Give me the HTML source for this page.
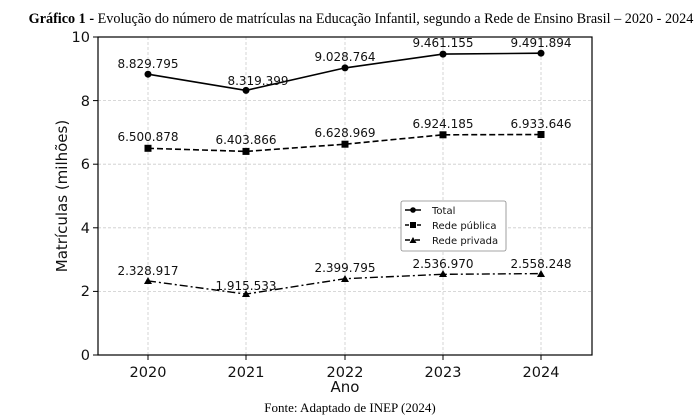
<!DOCTYPE html>
<html><head><meta charset="utf-8"><style>
html,body{margin:0;padding:0;background:#fff;width:700px;height:420px;overflow:hidden}
</style></head><body>
<svg width="700" height="420" viewBox="0 0 700 420" xmlns="http://www.w3.org/2000/svg">
<text x="361" y="23" text-anchor="middle" font-family="Liberation Serif, serif" font-size="14.2" fill="#000"><tspan font-weight="bold">Gráfico 1 -</tspan> Evolução do número de matrículas na Educação Infantil, segundo a Rede de Ensino Brasil – 2020 - 2024</text>
<g stroke="#ccc" stroke-width="0.8" stroke-dasharray="3,2">
<line x1="148" y1="37" x2="148" y2="355"/><line x1="246" y1="37" x2="246" y2="355"/><line x1="345" y1="37" x2="345" y2="355"/><line x1="443" y1="37" x2="443" y2="355"/><line x1="541" y1="37" x2="541" y2="355"/>
<line x1="98" y1="291.4" x2="592" y2="291.4"/><line x1="98" y1="227.8" x2="592" y2="227.8"/><line x1="98" y1="164.2" x2="592" y2="164.2"/><line x1="98" y1="100.6" x2="592" y2="100.6"/>
</g>
<rect x="98" y="37" width="494" height="318" fill="none" stroke="#000" stroke-width="1.2"/>
<g stroke="#000" stroke-width="1">
<line x1="93" y1="355" x2="98" y2="355"/><line x1="93" y1="291.4" x2="98" y2="291.4"/><line x1="93" y1="227.8" x2="98" y2="227.8"/><line x1="93" y1="164.2" x2="98" y2="164.2"/><line x1="93" y1="100.6" x2="98" y2="100.6"/><line x1="93" y1="37" x2="98" y2="37"/>
<line x1="148" y1="355" x2="148" y2="360"/><line x1="246" y1="355" x2="246" y2="360"/><line x1="345" y1="355" x2="345" y2="360"/><line x1="443" y1="355" x2="443" y2="360"/><line x1="541" y1="355" x2="541" y2="360"/>
</g>
<g font-family="DejaVu Sans, sans-serif" font-size="14.5" fill="#111" text-anchor="end">
<text x="90" y="360">0</text><text x="90" y="296">2</text><text x="90" y="233">4</text><text x="90" y="169">6</text><text x="90" y="106">8</text><text x="90" y="42">10</text>
</g>
<g font-family="DejaVu Sans, sans-serif" font-size="14.5" fill="#111" text-anchor="middle">
<text x="148" y="377">2020</text><text x="246" y="377">2021</text><text x="345" y="377">2022</text><text x="443" y="377">2023</text><text x="541" y="377">2024</text>
<text x="345" y="392" font-size="15">Ano</text>
<text transform="translate(67,196) rotate(-90)" font-size="15">Matrículas (milhões)</text>
</g>
<polyline fill="none" stroke="#000" stroke-width="1.6" points="148,74.2 246,90.4 345,67.9 443,54.1 541,53.2"/>
<polyline fill="none" stroke="#000" stroke-width="1.6" stroke-dasharray="6,3" points="148,148.3 246,151.4 345,144.2 443,134.8 541,134.5"/>
<polyline fill="none" stroke="#000" stroke-width="1.4" stroke-dasharray="8,3,2,3" points="148,280.9 246,294.1 345,278.7 443,274.3 541,273.6"/>
<g fill="#000">
<circle cx="148" cy="74.2" r="3.5"/><circle cx="246" cy="90.4" r="3.5"/><circle cx="345" cy="67.9" r="3.5"/><circle cx="443" cy="54.1" r="3.5"/><circle cx="541" cy="53.2" r="3.5"/>
<rect x="144.5" y="144.8" width="7" height="7"/><rect x="242.5" y="147.9" width="7" height="7"/><rect x="341.5" y="140.7" width="7" height="7"/><rect x="439.5" y="131.3" width="7" height="7"/><rect x="537.5" y="131" width="7" height="7"/>
<polygon points="148,277 152,284 144,284"/><polygon points="246,290 250,297 242,297"/><polygon points="345,275 349,282 341,282"/><polygon points="443,270 447,277 439,277"/><polygon points="541,270 545,277 537,277"/>
</g>
<g font-family="DejaVu Sans, sans-serif" font-size="12" fill="#111" text-anchor="middle">
<text x="148" y="68">8.829.795</text><text x="258" y="85">8.319.399</text><text x="345" y="61">9.028.764</text><text x="443" y="47">9.461.155</text><text x="541" y="47">9.491.894</text>
<text x="148" y="141">6.500.878</text><text x="246" y="144">6.403.866</text><text x="345" y="137">6.628.969</text><text x="443" y="128">6.924.185</text><text x="541" y="128">6.933.646</text>
<text x="148" y="275">2.328.917</text><text x="246" y="290">1.915.533</text><text x="345" y="272">2.399.795</text><text x="443" y="268">2.536.970</text><text x="541" y="268">2.558.248</text>
</g>
<rect x="401" y="201" width="105" height="50" fill="#fff" stroke="#888" stroke-width="0.8" rx="2"/>
<g stroke="#000" stroke-width="1.5">
<line x1="405" y1="210" x2="421" y2="210"/><line x1="405" y1="225" x2="421" y2="225" stroke-dasharray="4,2"/><line x1="405" y1="240" x2="421" y2="240" stroke-dasharray="5,2,1,2"/>
</g>
<circle cx="413" cy="210" r="2.8"/><rect x="410" y="222" width="6" height="6"/><polygon points="413,237 416.5,243 409.5,243"/>
<g font-family="DejaVu Sans, sans-serif" font-size="10" fill="#111">
<text x="432" y="214">Total</text><text x="432" y="229">Rede pública</text><text x="432" y="244">Rede privada</text>
</g>
<text x="350" y="412" text-anchor="middle" font-family="Liberation Serif, serif" font-size="13" fill="#000">Fonte: Adaptado de INEP (2024)</text>
</svg>
</body></html>
